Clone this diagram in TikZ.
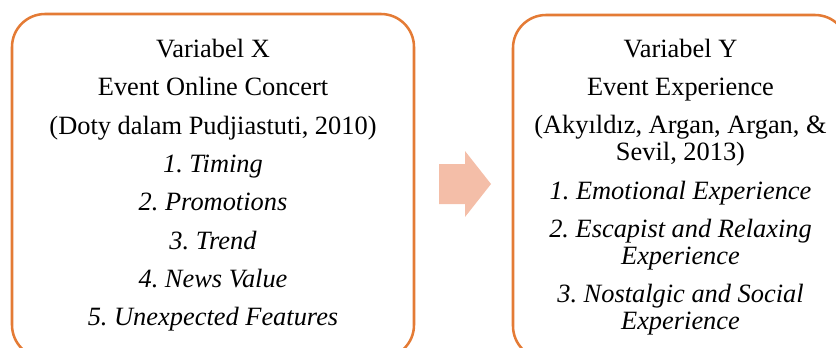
\documentclass[tikz,border=0pt]{standalone}
\usepackage{fontspec}
\setmainfont{Liberation Serif}
\usepackage{tikz}
\usetikzlibrary{positioning}
\frenchspacing
\definecolor{BoxOrange}{HTML}{E47B35}
\definecolor{ArrowPeach}{HTML}{F4BEA8}

\begin{document}
\begin{tikzpicture}[x=0.75pt,y=-0.75pt]
  \tikzstyle{varbox}=[draw=BoxOrange,line width=1.9pt,rounded corners=24.75pt,
    anchor=north west,outer sep=0pt,minimum height=258pt]
  \tikzstyle{vartext}=[inner sep=0pt,align=center,font=\fontsize{19.8}{20.25}\selectfont]
  \useasboundingbox (0,0) rectangle (836,347);
  \clip (0,0) rectangle (836,347);
  % both frames run on past the lower edge
  \node[varbox,minimum width=301.5pt] (boxX) at (12,14) {};
  \node[varbox,minimum width=251.25pt] (boxY) at (513,15) {};
  \node[vartext,below=18.6pt of boxX.north] (textX) {Variabel X\\[8.5pt]
    Event Online Concert\\[8.5pt]
    (Doty dalam Pudjiastuti, 2010)\\[8.5pt]
    \textit{1. Timing}\\[8.5pt]
    \textit{2. Promotions}\\[8.5pt]
    \textit{3. Trend}\\[8.5pt]
    \textit{4. News Value}\\[8.5pt]
    \textit{5. Unexpected Features}};
  \node[vartext,below=17.8pt of boxY.north] (textY) {Variabel Y\\[8.5pt]
    Event Experience\\[8.5pt]
    (Akyıldız, Argan, Argan, \&\\
    Sevil, 2013)\\[8.5pt]
    \textit{1. Emotional Experience}\\[8.5pt]
    \textit{2. Escapist and Relaxing}\\
    \textit{Experience}\\[8.5pt]
    \textit{3. Nostalgic and Social}\\
    \textit{Experience}};
  % block arrow between the two variables
  \fill[ArrowPeach] (439,164) -- (465,164) -- (465,151) -- (491,184)
    -- (465,217) -- (465,204) -- (439,204) -- cycle;
\end{tikzpicture}
\end{document}
